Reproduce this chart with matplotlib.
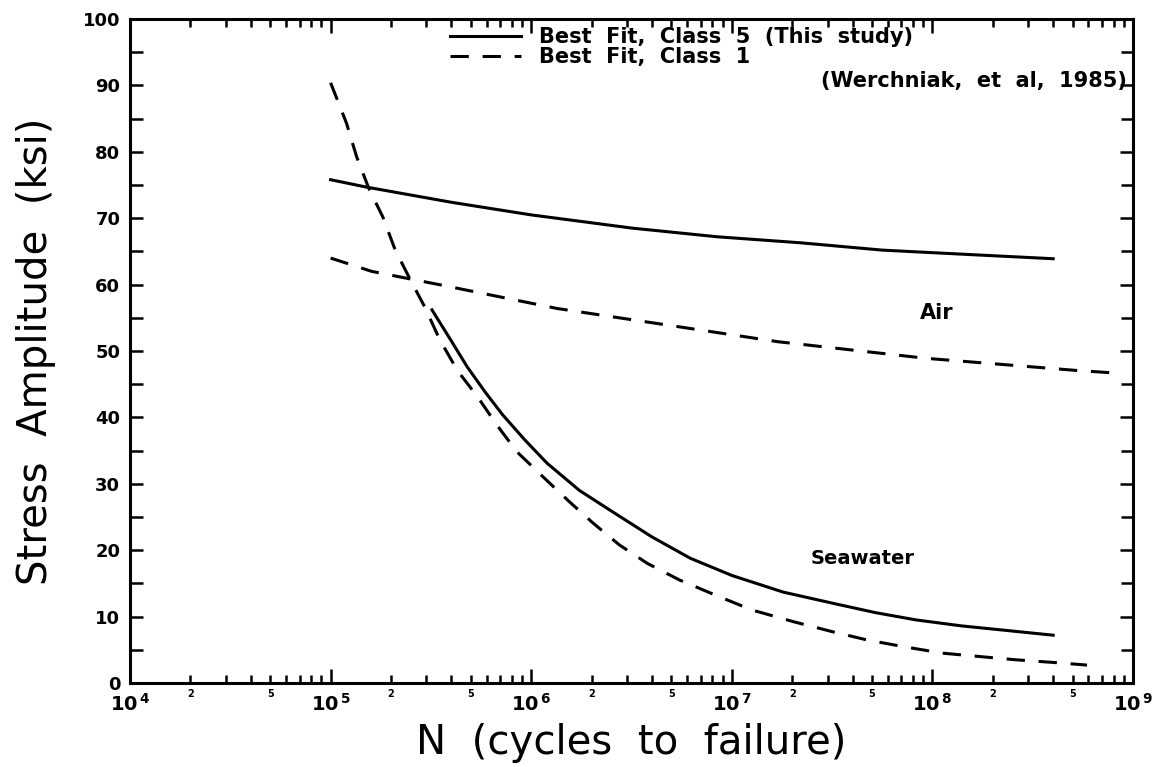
import numpy as np
import matplotlib.pyplot as plt
from matplotlib.lines import Line2D

# S-N curves (N in cycles, S in ksi)
air_c5_n = [1.0e5, 1.5e5, 4.0e5, 1.0e6, 3.2e6, 8.5e6, 2.2e7, 5.6e7, 1.6e8, 4.0e8]
air_c5_s = [75.8, 74.7, 72.4, 70.5, 68.5, 67.2, 66.3, 65.2, 64.5, 63.9]

air_c1_n = [1.0e5, 1.6e5, 3.9e5, 1.35e6, 4.8e6, 1.7e7, 9.3e7, 5.1e8, 8.0e8]
air_c1_s = [64.0, 62.0, 59.7, 56.4, 53.9, 51.4, 48.9, 47.1, 46.7]

sea_c5_n = [3.2e5, 4.0e5, 4.8e5, 5.9e5, 7.2e5, 9.3e5, 1.2e6, 1.74e6, 2.6e6, 4.0e6,
            6.2e6, 1.0e7, 1.8e7, 3.2e7, 5.2e7, 8.3e7, 1.4e8, 2.2e8, 4.0e8]
sea_c5_s = [56.2, 51.5, 47.6, 43.8, 40.4, 36.6, 33.1, 29.0, 25.6, 22.0,
            18.8, 16.2, 13.7, 12.0, 10.6, 9.5, 8.6, 8.0, 7.2]

sea_c1_n = [1.0e5, 1.2e5, 1.35e5, 1.55e5, 1.82e5, 2.1e5, 2.5e5, 2.95e5, 3.5e5, 4.3e5,
            5.4e5, 6.8e5, 8.5e5, 1.15e6, 1.55e6, 2.05e6, 2.75e6, 3.8e6, 5.5e6, 8.5e6,
            1.26e7, 2.05e7, 3.2e7, 4.7e7, 7.1e7, 1.12e8, 1.7e8, 2.6e8, 4.0e8, 5.9e8]
sea_c1_s = [90.4, 84.3, 79.2, 74.5, 70.2, 65.2, 60.7, 56.6, 51.7, 47.0,
            43.1, 38.7, 34.8, 31.0, 27.3, 24.0, 20.8, 18.0, 15.5, 13.1,
            11.0, 9.2, 7.7, 6.5, 5.5, 4.5, 4.0, 3.5, 3.1, 2.7]

decades = [4, 5, 6, 7, 8, 9]
y_ticks = list(range(0, 101, 10))

dash = (0, (6, 4.5))
lw = 2.2

fig = plt.figure(figsize=(11.63, 7.67), dpi=100)
ax = fig.add_axes([0.1118, 0.1095, 0.8624, 0.8657])

ax.plot(air_c5_n, air_c5_s, color="black", lw=lw)
ax.plot(sea_c5_n, sea_c5_s, color="black", lw=lw)
ax.plot(air_c1_n, air_c1_s, color="black", lw=lw, linestyle=dash)
ax.plot(sea_c1_n, sea_c1_s, color="black", lw=lw, linestyle=dash)

ax.set_xscale("log")
ax.set_xlim(1e4, 1e9)
ax.set_ylim(0, 100)

# x ticks: decades labelled 10^n, minor 2 and 5 labelled small
ax.set_xticks([10.0 ** d for d in decades])
ax.set_xticklabels([r"$\mathbf{10}^{\,\mathbf{%d}}$" % d for d in decades],
                   fontsize=14, fontweight="bold")
minor_pos = []
minor_lab = []
for d in decades[:-1]:
    for m in range(2, 10):
        minor_pos.append(m * 10.0 ** d)
        minor_lab.append(str(m) if m in (2, 5) else "")
ax.set_xticks(minor_pos, minor=True)
ax.set_xticklabels(minor_lab, minor=True, fontsize=7, fontweight="bold")

ax.set_yticks(y_ticks)
ax.set_yticklabels([str(v) for v in y_ticks], fontsize=13, fontweight="bold")
ax.set_yticks(list(range(5, 100, 10)), minor=True)

ax.tick_params(which="both", direction="in", top=True, right=True, width=1.8)
ax.tick_params(axis="x", which="major", length=10, pad=7)
ax.tick_params(axis="x", which="minor", length=6, pad=4)
ax.tick_params(axis="y", which="major", length=9.5, pad=7)
ax.tick_params(axis="y", which="minor", length=9)
for s in ax.spines.values():
    s.set_linewidth(2.2)

ax.set_xlabel("N  (cycles  to  failure)", fontsize=29, labelpad=6)
ax.set_ylabel("Stress  Amplitude  (ksi)", fontsize=29, labelpad=19)

ax.text(1.05e8, 55.7, "Air", fontsize=15, fontweight="bold", ha="center", va="center")
ax.text(4.5e7, 18.8, "Seawater", fontsize=14, fontweight="bold", ha="center", va="center")

handles = [Line2D([], [], color="black", lw=lw),
           Line2D([], [], color="black", lw=lw, linestyle=dash)]
leg = ax.legend(handles, ["Best  Fit,  Class  5  (This  study)", "Best  Fit,  Class  1"],
                loc="upper left", bbox_to_anchor=(0.319, 0.988), frameon=False,
                prop={"size": 15, "weight": "bold"}, handlelength=3.4,
                handletextpad=0.85, labelspacing=0.0, borderpad=0,
                borderaxespad=0)
ax.text(0.994, 0.906, "(Werchniak,  et  al,  1985)", transform=ax.transAxes,
        fontsize=15, fontweight="bold", ha="right", va="center")

fig.savefig("out.png", dpi=100)
